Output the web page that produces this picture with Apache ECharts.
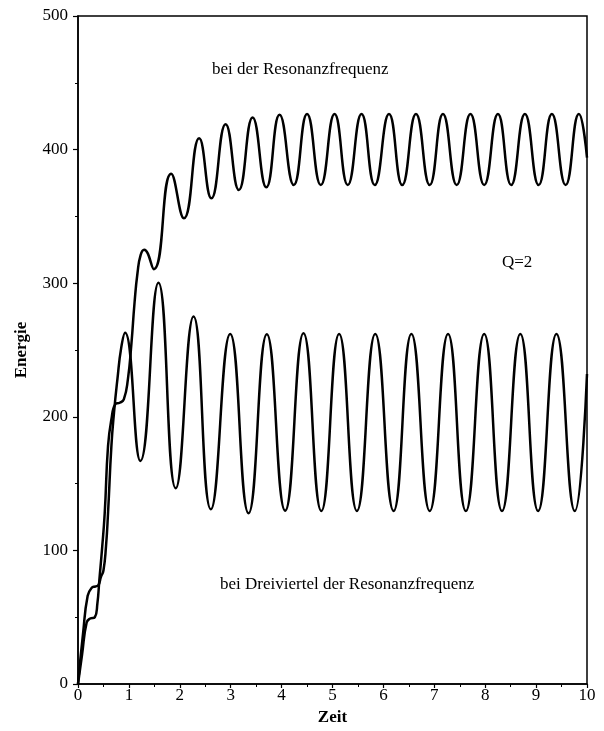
<!DOCTYPE html>
<html><head><meta charset="utf-8">
<script src="https://cdn.jsdelivr.net/npm/echarts@6/dist/echarts.min.js"></script>
<style>html,body{margin:0;padding:0;background:#fff}#c{width:604px;height:731px}</style>
</head><body><div id="c"></div>
<script>
// Zeit (time) and Energie values
const resTime = [0,0.08,0.17,0.24,0.33,0.38,0.42,0.47,0.525,0.59,0.656,0.735,0.82,0.9,0.98,1.05,1.11,1.17,1.23,1.30,1.49,1.83,2.08,2.38,2.62,2.90,3.16,3.43,3.70,3.96,4.24,4.50,4.77,5.04,5.30,5.57,5.83,6.11,6.37,6.64,6.91,7.17,7.44,7.71,7.98,8.25,8.51,8.78,9.05,9.31,9.58,9.84,10];
const resEnergy = [0,22,46,49,50,60,78,100,128,178,198,209.5,210.5,213,228,255,285,308,321,325,310.5,382,348.6,408.5,363.5,419,369.8,424,371.8,426,373.5,426.6,373.5,426.6,373.5,426.6,373.5,426.6,373.5,426.6,373.5,426.6,373.5,426.6,373.5,426.6,373.5,426.6,373.5,426.6,373.5,426.6,394];
const dvTime = [0,0.1,0.19,0.27,0.34,0.40,0.45,0.5,0.55,0.59,0.656,0.707,0.774,0.85,0.925,1.225,1.58,1.92,2.27,2.61,2.99,3.35,3.71,4.07,4.43,4.78,5.13,5.48,5.84,6.20,6.55,6.91,7.27,7.62,7.98,8.33,8.69,9.04,9.40,9.76,10];
const dvEnergy = [0,38,66,72,73,74,80,85,103,128,178,203,228,252,263,167,300.4,146.5,275,130.8,262,127.8,261.8,129.7,262.5,129.5,262,129.5,262,129.5,262,129.5,262,129.5,262,129.5,262,129.5,262,129.5,232];
const xTicks = {min:0, max:10, interval:1};
const yTicks = {min:0, max:500, interval:100};
const labelRes = 'bei der Resonanzfrequenz';
const labelDv = 'bei Dreiviertel der Resonanzfrequenz';
const labelQ = 'Q=2';

const zip = (a,b) => a.map((v,i)=>[v,b[i]]);
const font = "'Liberation Serif','DejaVu Serif',serif";
const chart = echarts.init(document.getElementById('c'));
const axisCommon = {
  axisLine:{show:true,lineStyle:{color:'#000',width:1.5}},
  axisTick:{show:true,inside:false,lineStyle:{color:'#000',width:1.2}},
  minorTick:{show:true,splitNumber:2,length:3,lineStyle:{color:'#000',width:1}},
  splitLine:{show:false},
  axisLabel:{color:'#000',fontFamily:font,fontSize:17},
  nameTextStyle:{color:'#000',fontFamily:font,fontSize:17,fontWeight:'bold'}
};
chart.setOption({
  animation:false,
  backgroundColor:'#fff',
  grid:{left:78,right:17,top:16,bottom:47,show:true,borderColor:'#000',borderWidth:1.5},
  xAxis:Object.assign({},axisCommon,{type:'value',min:xTicks.min,max:xTicks.max,interval:xTicks.interval,
    name:'Zeit',nameLocation:'middle',nameGap:22,
    axisTick:Object.assign({},axisCommon.axisTick,{length:4}),
    axisLabel:Object.assign({},axisCommon.axisLabel,{margin:3})}),
  yAxis:Object.assign({},axisCommon,{type:'value',min:yTicks.min,max:yTicks.max,interval:yTicks.interval,
    name:'Energie',nameLocation:'middle',nameGap:48,
    axisTick:Object.assign({},axisCommon.axisTick,{length:5}),
    axisLabel:Object.assign({},axisCommon.axisLabel,{margin:10})}),
  series:[
    {type:'line',data:zip(resTime,resEnergy),smooth:0.5,showSymbol:false,
     lineStyle:{color:'#000',width:2.5}},
    {type:'line',data:zip(dvTime,dvEnergy),smooth:0.5,showSymbol:false,
     lineStyle:{color:'#000',width:2.5}}
  ],
  graphic:[
    {type:'text',left:212,top:61,style:{text:labelRes,font:"17px "+font,fill:'#000'}},
    {type:'text',left:502,top:254,style:{text:labelQ,font:"17px "+font,fill:'#000'}},
    {type:'text',left:220,top:576,style:{text:labelDv,font:"17px "+font,fill:'#000'}}
  ]
});
</script></body></html>
